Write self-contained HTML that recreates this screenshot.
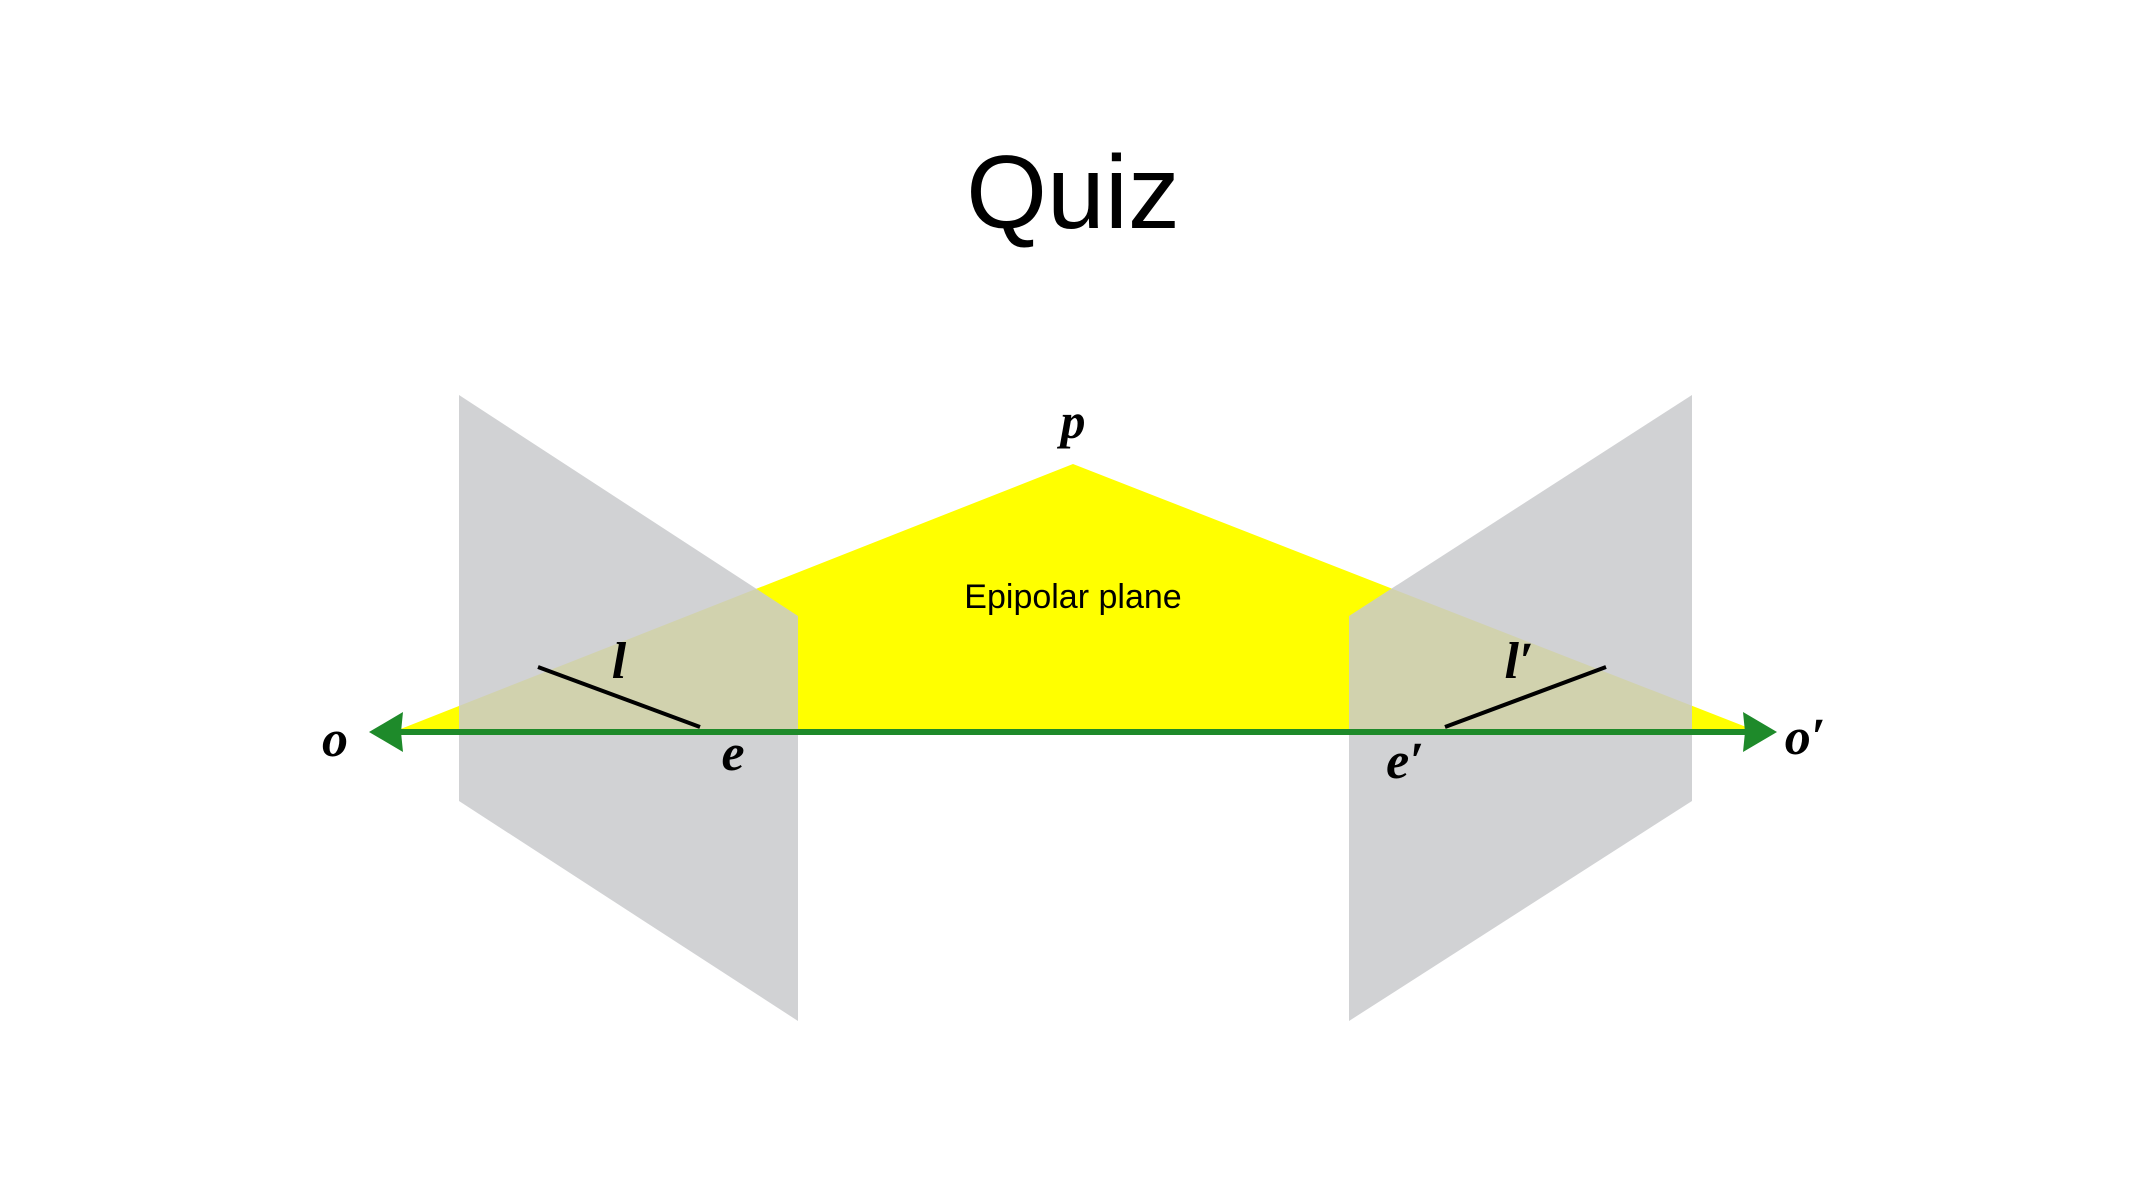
<!DOCTYPE html>
<html><head><meta charset="utf-8"><style>
html,body{margin:0;padding:0;background:#fff;}
svg{display:block;}
</style></head><body>
<svg width="2133" height="1200" viewBox="0 0 2133 1200" xmlns="http://www.w3.org/2000/svg">
<rect width="2133" height="1200" fill="#fff"/>
<text x="1073" y="228" text-anchor="middle" font-family="Liberation Sans, sans-serif" font-size="104" fill="#000">Quiz</text>
<g transform="translate(-3,-2)">
<polygon points="1076,466 396,734 1762,734" fill="#ffff00"/>
<polygon points="462,397 801,618 801,1023 462,803" fill="#c9cacc" fill-opacity="0.85"/>
<polygon points="1695,397 1352,618 1352,1023 1695,803" fill="#c9cacc" fill-opacity="0.85"/>
<line x1="541" y1="669" x2="703" y2="729" stroke="#000" stroke-width="4"/>
<line x1="1448" y1="729" x2="1609" y2="669" stroke="#000" stroke-width="4"/>
<line x1="395" y1="734" x2="1755" y2="734" stroke="#1e8a2a" stroke-width="6"/>
<polygon points="372,734 406,714 404,734 406,754" fill="#1e8a2a"/>
<polygon points="1780,734 1746,714 1748,734 1746,754" fill="#1e8a2a"/>
<text x="1076" y="440" text-anchor="middle" font-family="Liberation Serif, serif" font-weight="bold" font-style="italic" font-size="50">p</text>
<text x="1076" y="610" text-anchor="middle" font-family="Liberation Sans, sans-serif" font-size="34">Epipolar plane</text>
<text x="338" y="758" text-anchor="middle" font-family="Liberation Serif, serif" font-weight="bold" font-style="italic" font-size="52">o</text>
<text x="736" y="772" text-anchor="middle" font-family="Liberation Serif, serif" font-weight="bold" font-style="italic" font-size="52">e</text>
<text x="622" y="680" text-anchor="middle" font-family="Liberation Serif, serif" font-weight="bold" font-style="italic" font-size="52">l</text>
<text x="1522" y="680" text-anchor="middle" font-family="Liberation Serif, serif" font-weight="bold" font-style="italic" font-size="52">l′</text>
<text x="1408" y="780" text-anchor="middle" font-family="Liberation Serif, serif" font-weight="bold" font-style="italic" font-size="52">e′</text>
<text x="1808" y="756" text-anchor="middle" font-family="Liberation Serif, serif" font-weight="bold" font-style="italic" font-size="52">o′</text>
</g>
</svg>
</body></html>
